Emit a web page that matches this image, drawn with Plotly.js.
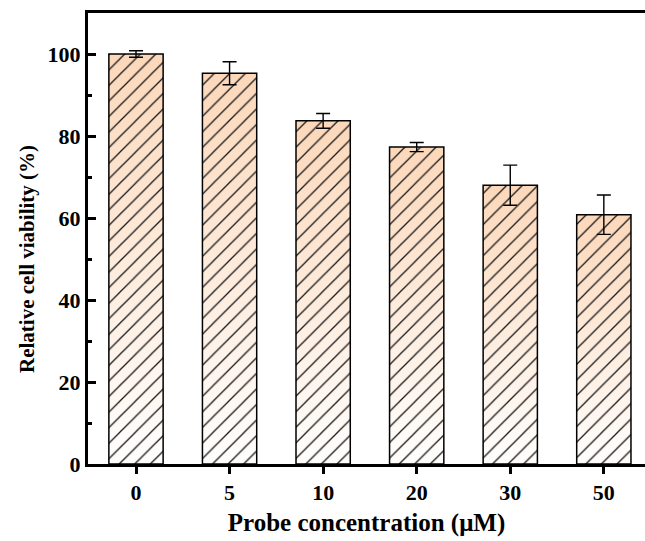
<!DOCTYPE html>
<html>
<head>
<meta charset="utf-8">
<script src="https://cdn.plot.ly/plotly-3.0.1.min.js"></script>
<style>html,body{margin:0;padding:0;background:#fff;}#chart{width:645px;height:541px;}</style>
</head>
<body>
<div id="chart"></div>
<script>
// Data
const categories = ['0', '5', '10', '20', '30', '50'];
const viability = [100.0, 95.3, 83.7, 77.3, 68.0, 60.8];
const errors = [0.8, 2.8, 1.8, 1.1, 4.9, 4.8];
const yTickVals = [0, 20, 40, 60, 80, 100];
const xTitle = 'Probe concentration (μM)';
const yTitle = 'Relative cell viability (%)';

const barWidth = 0.58;
const font = {family: 'Liberation Serif, Times New Roman, serif', color: '#000', weight: 'bold'};
const idx = categories.map((c, i) => i);

const traces = [];
// gradient fill under each bar (per-bar vertical gradient)
idx.forEach(i => {
  const x0 = i - barWidth / 2, x1 = i + barWidth / 2;
  traces.push({
    type: 'scatter', mode: 'none', xaxis: 'x', yaxis: 'y',
    x: [x0, x1, x1, x0, x0], y: [0, 0, viability[i], viability[i], 0],
    fill: 'toself',
    fillgradient: {type: 'vertical', colorscale: [[0, '#fffefd'], [1, '#fcd8ba']]},
    hoverinfo: 'skip', showlegend: false
  });
});
// hatched bars with error bars on top
traces.push({
  type: 'bar', xaxis: 'x2', yaxis: 'y',
  x: idx, y: viability, width: barWidth,
  marker: {
    color: 'rgba(0,0,0,0)',
    line: {color: '#000', width: 1.5},
    pattern: {shape: '/', fgcolor: '#1a1a1a', fgopacity: 1, bgcolor: 'rgba(0,0,0,0)', size: 11, solidity: 0.12, fillmode: 'overlay'}
  },
  error_y: {type: 'data', array: errors, visible: true, color: '#000', thickness: 1.4, width: 7},
  showlegend: false
});

const xr = [-0.513, 5.44];
const layout = {
  width: 645, height: 541,
  margin: {l: 88, r: 0, t: 13, b: 77},
  paper_bgcolor: '#fff', plot_bgcolor: '#fff',
  showlegend: false,
  xaxis: {
    range: xr, showgrid: false, zeroline: false,
    showline: true, linecolor: '#000', linewidth: 3, mirror: true,
    ticks: 'outside', ticklen: 7, tickwidth: 3, tickcolor: '#000',
    tickmode: 'array', tickvals: idx, ticktext: categories,
    tickfont: Object.assign({size: 22}, font),
    title: {text: xTitle, font: Object.assign({size: 25}, font), standoff: 10}
  },
  xaxis2: {
    overlaying: 'x', matches: 'x', range: xr,
    showgrid: false, zeroline: false, showline: false, showticklabels: false, ticks: ''
  },
  yaxis: {
    range: [0, 110], showgrid: false, zeroline: false,
    showline: true, linecolor: '#000', linewidth: 3, mirror: false,
    ticks: 'inside', ticklen: 8, tickwidth: 3, tickcolor: '#000',
    tickmode: 'array', tickvals: yTickVals,
    minor: {dtick: 10, ticks: 'inside', ticklen: 4, tickwidth: 3, tickcolor: '#000', showgrid: false},
    tickfont: Object.assign({size: 22}, font),
    ticklabelstandoff: 0
  },
  annotations: [{
    text: yTitle, textangle: -90, showarrow: false,
    xref: 'paper', x: 0, xanchor: 'center', xshift: -61,
    yref: 'y', y: 50, yanchor: 'middle',
    font: Object.assign({size: 21}, font)
  }]
};

Plotly.newPlot('chart', traces, layout, {staticPlot: true, displayModeBar: false});
</script>
</body>
</html>
